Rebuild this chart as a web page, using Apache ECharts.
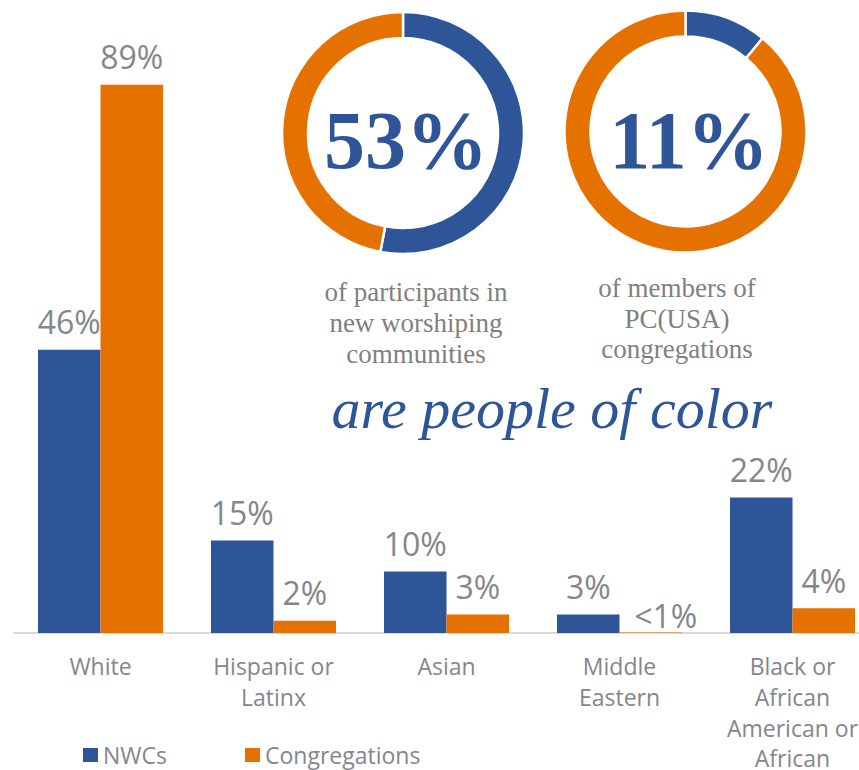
<!DOCTYPE html>
<html>
<head>
<meta charset="utf-8">
<title>People of color in NWCs and PC(USA) congregations</title>
<script src="https://cdn.jsdelivr.net/npm/echarts@6/dist/echarts.min.js"></script>
<style>
  html, body { margin: 0; padding: 0; background: #ffffff; }
  #chart { width: 859px; height: 770px; }
</style>
</head>
<body>
<div id="chart"></div>
<script>
// Racial/ethnic makeup, percent of participants
const categories = ['White', 'Hispanic or\nLatinx', 'Asian', 'Middle\nEastern', 'Black or\nAfrican\nAmerican or\nAfrican'];
const seriesNames = ['NWCs', 'Congregations'];
const nwcValues = [46, 15, 10, 3, 22];
const congregationValues = [89, 2, 3, 0.1, 4];

// Share who are people of color (donuts)
const nwcPeopleOfColor = [53, 47];
const congregationPeopleOfColor = [11, 89];

const BLUE = '#2e5597';
const ORANGE = '#e57200';
const GRAY = '#83878c';
const SANS = '"Open Sans", "Noto Sans", sans-serif';
const SERIF = '"Liberation Serif", "DejaVu Serif", serif';

const chart = echarts.init(document.getElementById('chart'), null, { renderer: 'svg' });

const pctLabel = (p) => (p.value < 1 ? '<1%' : p.value + '%');

const barLabel = {
  show: true,
  position: 'top',
  distance: 12,
  color: GRAY,
  fontFamily: SANS,
  fontSize: 32,
  formatter: pctLabel
};

// the "<1%" label sits beside its (nearly flat) bar
const congregationData = congregationValues.map((v) =>
  v < 1 ? { value: v, label: { offset: [15, 11] } } : v
);

function donut(center, values) {
  return {
    type: 'pie',
    center: center,
    radius: [95, 121],
    startAngle: 90,
    clockwise: true,
    silent: true,
    label: { show: false },
    labelLine: { show: false },
    itemStyle: { borderColor: '#ffffff', borderWidth: 2.5 },
    data: [
      { value: values[0], name: 'people of color', itemStyle: { color: BLUE } },
      { value: values[1], name: 'other', itemStyle: { color: ORANGE } }
    ]
  };
}

chart.setOption({
  animation: false,
  backgroundColor: '#ffffff',
  color: [BLUE, ORANGE],
  grid: {
    left: 14, top: 17, width: 865, bottom: 137,
    containLabel: false,
    outerBoundsMode: 'none'
  },
  legend: {
    data: seriesNames,
    left: 83,
    top: 743,
    padding: 0,
    itemWidth: 15,
    itemHeight: 14,
    itemGap: 78,
    icon: 'rect',
    textStyle: { color: GRAY, fontFamily: SANS, fontSize: 23, lineHeight: 24 }
  },
  xAxis: {
    type: 'category',
    data: categories,
    axisLine: { show: true, lineStyle: { color: '#d9d9d9', width: 2 } },
    axisTick: { show: false },
    axisLabel: {
      color: GRAY,
      fontFamily: SANS,
      fontSize: 23,
      lineHeight: 30.7,
      margin: 18,
      interval: 0
    }
  },
  yAxis: {
    type: 'value',
    min: 0,
    max: 100,
    show: false,
    splitLine: { show: false }
  },
  series: [
    {
      name: seriesNames[0],
      type: 'bar',
      data: nwcValues,
      barWidth: 62.5,
      barGap: '0%',
      itemStyle: { color: BLUE },
      label: barLabel
    },
    {
      name: seriesNames[1],
      type: 'bar',
      data: congregationData,
      barWidth: 62.5,
      barGap: '0%',
      itemStyle: { color: ORANGE },
      label: barLabel
    },
    donut([403, 133], nwcPeopleOfColor),
    donut([685.5, 131.5], congregationPeopleOfColor)
  ],
  graphic: [
    {
      type: 'text', x: 406, y: 140, silent: true,
      style: { text: nwcPeopleOfColor[0] + '%', fill: BLUE, font: 'bold 82px ' + SERIF, align: 'center', verticalAlign: 'middle' }
    },
    {
      type: 'text', x: 689, y: 140, silent: true,
      style: { text: congregationPeopleOfColor[0] + '%', fill: BLUE, font: 'bold 82px ' + SERIF, align: 'center', verticalAlign: 'middle' }
    },
    {
      type: 'text', x: 416, y: 276, silent: true,
      style: { text: 'of participants in\nnew worshiping\ncommunities', fill: '#808080', font: '27px ' + SERIF, lineHeight: 31, align: 'center', verticalAlign: 'top' }
    },
    {
      type: 'text', x: 677, y: 273, silent: true,
      style: { text: 'of members of\nPC(USA)\ncongregations', fill: '#808080', font: '27px ' + SERIF, lineHeight: 30.5, align: 'center', verticalAlign: 'top' }
    },
    {
      type: 'text', x: 552, y: 437, silent: true,
      style: { text: 'are people of color', fill: BLUE, font: 'italic 58px ' + SERIF, align: 'center', verticalAlign: 'bottom' }
    }
  ]
});
</script>
</body>
</html>
